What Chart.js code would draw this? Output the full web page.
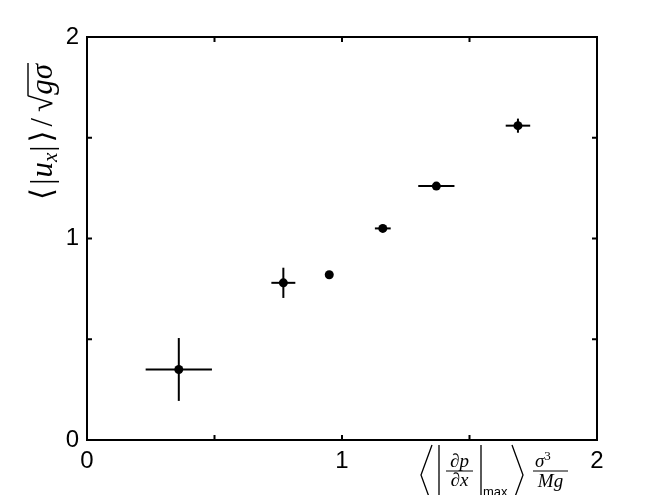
<!DOCTYPE html>
<html>
<head>
<meta charset="utf-8">
<script src="https://cdn.jsdelivr.net/npm/chart.js@4"></script>
<style>
  body { margin: 0; background: #fff; }
  canvas { display: block; }
</style>
</head>
<body>
<canvas id="chart" width="659" height="495"></canvas>
<script>
// values
const xVals = [0.36, 0.77, 0.95, 1.16, 1.37, 1.69];
const yVals = [0.35, 0.78, 0.82, 1.05, 1.26, 1.56];
const xErr = [0.13, 0.047, 0, 0.031, 0.071, 0.048];
const yErr = [0.156, 0.075, 0, 0.012, 0, 0.035];
const tickVals = [0, 0.5, 1, 1.5, 2];
const tickLabels = ['0', '', '1', '', '2'];

const serif = '"Liberation Serif", "DejaVu Serif", serif';
const sans = '"Liberation Sans", Arial, sans-serif';

function labelFor(v) {
    const i = tickVals.indexOf(v);
    return i >= 0 ? tickLabels[i] : '';
}

// draws pieces of text one after another, returns end x
function drawRun(ctx, x, y, pieces) {
    pieces.forEach(p => {
        ctx.font = p.font;
        ctx.fillText(p.t, x, y + (p.dy || 0));
        x += ctx.measureText(p.t).width + (p.gap || 0);
    });
    return x;
}
function runWidth(ctx, pieces) {
    let w = 0;
    pieces.forEach(p => {
        ctx.font = p.font;
        w += ctx.measureText(p.t).width + (p.gap || 0);
    });
    return w;
}

const errorBars = {
    id: 'errorBars',
    afterDatasetsDraw(chart) {
        const ctx = chart.ctx;
        const xs = chart.scales.x, ys = chart.scales.y;
        ctx.save();
        ctx.strokeStyle = '#000';
        ctx.lineWidth = 2;
        xVals.forEach((xv, i) => {
            const px = xs.getPixelForValue(xv), py = ys.getPixelForValue(yVals[i]);
            if (xErr[i] > 0) {
                ctx.beginPath();
                ctx.moveTo(xs.getPixelForValue(xv - xErr[i]), py);
                ctx.lineTo(xs.getPixelForValue(xv + xErr[i]), py);
                ctx.stroke();
            }
            if (yErr[i] > 0) {
                ctx.beginPath();
                ctx.moveTo(px, ys.getPixelForValue(yVals[i] - yErr[i]));
                ctx.lineTo(px, ys.getPixelForValue(yVals[i] + yErr[i]));
                ctx.stroke();
            }
        });
        ctx.restore();
    }
};

const frame = {
    id: 'frame',
    afterDraw(chart) {
        const ctx = chart.ctx;
        const a = chart.chartArea;
        const xs = chart.scales.x, ys = chart.scales.y;
        ctx.save();
        ctx.strokeStyle = '#000';
        ctx.lineWidth = 2;
        ctx.strokeRect(a.left, a.top, a.right - a.left, a.bottom - a.top);
        const tl = 5;
        ctx.beginPath();
        tickVals.slice(1, -1).forEach(v => {
            const px = xs.getPixelForValue(v);
            ctx.moveTo(px, a.bottom); ctx.lineTo(px, a.bottom - tl);
            ctx.moveTo(px, a.top); ctx.lineTo(px, a.top + tl);
            const py = ys.getPixelForValue(v);
            ctx.moveTo(a.left, py); ctx.lineTo(a.left + tl, py);
            ctx.moveTo(a.right, py); ctx.lineTo(a.right - tl, py);
        });
        ctx.stroke();
        ctx.restore();
    }
};

const mathTitles = {
    id: 'mathTitles',
    afterDraw(chart) {
        const ctx = chart.ctx;
        const a = chart.chartArea;
        ctx.save();
        ctx.fillStyle = '#000';
        ctx.strokeStyle = '#000';
        ctx.textBaseline = 'alphabetic';
        ctx.textAlign = 'left';

        // x title: < | dp/dx |max > sigma^3 / Mg
        const r = a.right, b = a.bottom;
        ctx.lineWidth = 1.3;
        ctx.beginPath();
        ctx.moveTo(r - 165, b + 5); ctx.lineTo(r - 176, b + 35); ctx.lineTo(r - 165, b + 65);
        ctx.moveTo(r - 158, b + 5); ctx.lineTo(r - 158, b + 65);
        ctx.moveTo(r - 116, b + 5); ctx.lineTo(r - 116, b + 57);
        ctx.moveTo(r - 85, b + 5); ctx.lineTo(r - 74, b + 35); ctx.lineTo(r - 85, b + 65);
        ctx.stroke();
        ctx.lineWidth = 1;
        ctx.beginPath();
        ctx.moveTo(r - 151, b + 31); ctx.lineTo(r - 124, b + 31);
        ctx.moveTo(r - 64, b + 31); ctx.lineTo(r - 29, b + 31);
        ctx.stroke();
        const fr = 'italic 19px ' + serif;
        ctx.textAlign = 'center';
        ctx.font = fr;
        ctx.fillText('\u2202p', r - 137.5, b + 27);
        ctx.fillText('\u2202x', r - 137.5, b + 46);
        ctx.fillText('Mg', r - 46.5, b + 47);
        ctx.textAlign = 'left';
        drawRun(ctx, r - 62, b + 27, [
            { t: '\u03c3', font: fr },
            { t: '3', font: '13px ' + serif, dy: -7 }
        ]);
        ctx.font = '13px ' + sans;
        ctx.fillText('max', r - 114, b + 56);

        // y title: <|u_x|> / sqrt(g sigma), rotated
        const cx = 43, cy = 132;
        ctx.translate(cx, cy);
        ctx.rotate(-Math.PI / 2);
        const it = 'italic 31px ' + serif, rm = '31px ' + serif;
        const pieces = [
            { t: '\u27e8', font: rm, gap: 3 },
            { t: '|', font: rm, gap: 1 },
            { t: 'u', font: it },
            { t: 'x', font: 'italic 21px ' + serif, dy: 5, gap: 1 },
            { t: '|', font: rm, gap: 3 },
            { t: '\u27e9', font: rm, gap: 4 },
            { t: '/', font: rm, gap: 6 },
            { t: '\u221a', font: rm }
        ];
        const rad = [{ t: 'g\u03c3', font: it }];
        const total = runWidth(ctx, pieces) + runWidth(ctx, rad);
        const x0 = -total / 2, base = 9;
        const xEnd = drawRun(ctx, x0, base, pieces);
        const xEnd2 = drawRun(ctx, xEnd, base, rad);
        ctx.lineWidth = 1.4;
        ctx.beginPath();
        ctx.moveTo(xEnd - 1, base - 24);
        ctx.lineTo(xEnd2 + 1, base - 24);
        ctx.stroke();
        ctx.restore();
    }
};

new Chart(document.getElementById('chart'), {
    type: 'scatter',
    data: {
        datasets: [{
            data: xVals.map((x, i) => ({ x: x, y: yVals[i] })),
            backgroundColor: '#000',
            borderWidth: 0,
            pointRadius: 4.5,
            pointHoverRadius: 4.5
        }]
    },
    options: {
        responsive: false,
        animation: false,
        layout: { padding: { top: 37, right: 62, left: 0, bottom: 0 } },
        plugins: { legend: { display: false }, tooltip: { enabled: false } },
        scales: {
            x: {
                type: 'linear', min: 0, max: 2,
                afterBuildTicks: s => { s.ticks = tickVals.map(v => ({ value: v })); },
                afterFit: s => { s.height = 55; },
                grid: { display: false },
                border: { display: false },
                ticks: {
                    autoSkip: false, maxRotation: 0, padding: -1,
                    color: '#000', font: { family: sans, size: 24 },
                    callback: v => labelFor(v)
                }
            },
            y: {
                type: 'linear', min: 0, max: 2,
                afterBuildTicks: s => { s.ticks = tickVals.map(v => ({ value: v })); },
                afterFit: s => { s.width = 87; },
                grid: { display: false },
                border: { display: false },
                ticks: {
                    autoSkip: false, padding: 0,
                    color: '#000', font: { family: sans, size: 24 },
                    callback: v => labelFor(v)
                }
            }
        }
    },
    plugins: [errorBars, frame, mathTitles]
});
</script>
</body>
</html>
